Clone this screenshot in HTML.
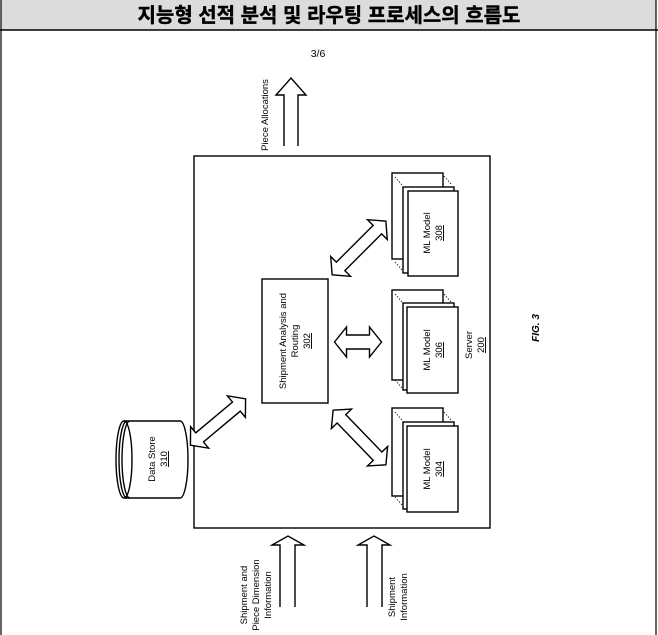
<!DOCTYPE html>
<html><head><meta charset="utf-8"><style>
html,body{margin:0;padding:0;background:#fff;}
svg{display:block;}
</style></head><body>
<svg width="658" height="635" viewBox="0 0 658 635" xmlns="http://www.w3.org/2000/svg" font-family="Liberation Sans, sans-serif">
<rect x="0" y="0" width="658" height="635" fill="#fff"/>
<rect x="1" y="0" width="655" height="30" fill="#dcdcdc"/>
<line x1="0" y1="30" x2="658" y2="30" stroke="#000" stroke-width="1.5"/>
<line x1="1" y1="0" x2="1" y2="635" stroke="#000" stroke-width="1.2"/>
<line x1="656" y1="0" x2="656" y2="635" stroke="#000" stroke-width="1.2"/>
<text x="329" y="22" text-anchor="middle" font-size="20" font-weight="bold" stroke="#000" stroke-width="0.4" font-family="Liberation Sans, Noto Sans CJK KR, sans-serif">지능형 선적 분석 및 라우팅 프로세스의 흐름도</text>

<text x="318" y="57" text-anchor="middle" font-size="10.5">3/6</text>

<g fill="#fff" stroke="#000" stroke-width="1.4">
<polyline points="284,146 284,95 276,95 291,78 306,95 298,95 298,146"/>
<polyline points="280,607 280,545 272,545 288,536 304,545 295,545 295,607"/>
<polyline points="367,607 367,545 358,545 374,536 390,545 382,545 382,607"/>
<rect x="194" y="156" width="296" height="372"/>
<rect x="262" y="279" width="66" height="124"/>
<g>
<rect x="392" y="173" width="51" height="86"/>
<rect x="403" y="187" width="51" height="86"/>
<rect x="408" y="191" width="50" height="85"/>
</g>
<g>
<rect x="392" y="290" width="51" height="90"/>
<rect x="403" y="303" width="51" height="87"/>
<rect x="407" y="307" width="51" height="86"/>
</g>
<g>
<rect x="392" y="408" width="51" height="88"/>
<rect x="403" y="422" width="51" height="87"/>
<rect x="407" y="426" width="51" height="86"/>
</g>
<g transform="translate(358,342)"><polygon points="-23.5,0 -11.5,-15 -11.5,-7 11.5,-7 11.5,-15 23.5,0 11.5,15 11.5,7 -11.5,7 -11.5,15"/></g>
<g transform="translate(359,248) rotate(-45)"><polygon points="-38,0 -26,-14 -26,-6 26,-6 26,-14 38,0 26,14 26,6 -26,6 -26,14"/></g>
<g transform="translate(359.5,437.5) rotate(46)"><polygon points="-38,0 -26,-14 -26,-6 26,-6 26,-14 38,0 26,14 26,6 -26,6 -26,14"/></g>
<g transform="translate(218,422) rotate(-40)"><polygon points="-36,0 -24,-14 -24,-6 24,-6 24,-14 36,0 24,14 24,6 -24,6 -24,14"/></g>
<path d="M124,421 L180,421 A8,38.5 0 0 1 180,498 L124,498"/>
<ellipse cx="124" cy="459.5" rx="8" ry="38.5"/>
<path d="M127,421 A8,38.5 0 0 0 127,498" fill="none"/>
<path d="M130,421 A8,38.5 0 0 0 130,498" fill="none"/>
</g>
<g stroke="#000" stroke-width="0.8" stroke-dasharray="1.5,1.5">
<line x1="395" y1="177" x2="402" y2="185"/><line x1="444" y1="176" x2="451" y2="184"/><line x1="395" y1="262" x2="402" y2="270"/>
<line x1="395" y1="294" x2="402" y2="302"/><line x1="444" y1="294" x2="451" y2="302"/><line x1="395" y1="380" x2="402" y2="388"/>
<line x1="395" y1="412" x2="402" y2="420"/><line x1="444" y1="412" x2="451" y2="420"/><line x1="395" y1="497" x2="402" y2="505"/>
</g>

<g font-size="9.5" fill="#000" text-anchor="middle">
<text transform="translate(268,115) rotate(-90)">Piece Allocations</text>
<text transform="translate(286,341) rotate(-90)"><tspan x="0" y="0">Shipment Analysis and</tspan><tspan x="0" y="12">Routing</tspan><tspan x="0" y="24" text-decoration="underline">302</tspan></text>
<text transform="translate(430,233) rotate(-90)"><tspan x="0" y="0">ML Model</tspan><tspan x="0" y="12" text-decoration="underline">308</tspan></text>
<text transform="translate(430,350) rotate(-90)"><tspan x="0" y="0">ML Model</tspan><tspan x="0" y="12" text-decoration="underline">306</tspan></text>
<text transform="translate(430,469) rotate(-90)"><tspan x="0" y="0">ML Model</tspan><tspan x="0" y="12" text-decoration="underline">304</tspan></text>
<text transform="translate(155,459) rotate(-90)"><tspan x="0" y="0">Data Store</tspan><tspan x="0" y="12" text-decoration="underline">310</tspan></text>
<text transform="translate(472,345) rotate(-90)"><tspan x="0" y="0">Server</tspan><tspan x="0" y="12" text-decoration="underline">200</tspan></text>
<text transform="translate(247,595) rotate(-90)"><tspan x="0" y="0">Shipment and</tspan><tspan x="0" y="12">Piece Dimension</tspan><tspan x="0" y="24">Information</tspan></text>
<text transform="translate(395,597) rotate(-90)"><tspan x="0" y="0">Shipment</tspan><tspan x="0" y="12">Information</tspan></text>
<text transform="translate(539,328) rotate(-90)" font-weight="bold" font-style="italic" font-size="10">FIG. 3</text>
</g>
</svg>
</body></html>
